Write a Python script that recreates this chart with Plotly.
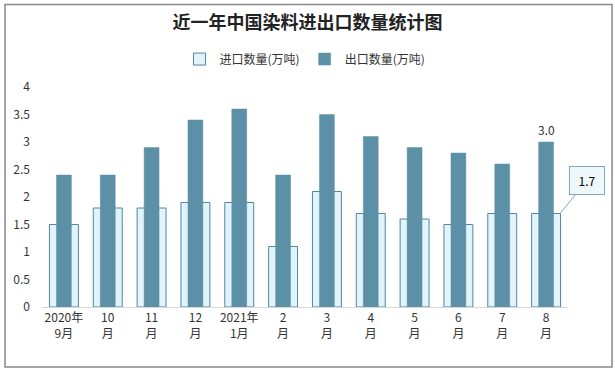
import plotly.graph_objects as go

categories = ["2020年<br>9月", "10<br>月", "11<br>月", "12<br>月", "2021年<br>1月", "2<br>月",
              "3<br>月", "4<br>月", "5<br>月", "6<br>月", "7<br>月", "8<br>月"]
import_vals = [1.5, 1.8, 1.8, 1.9, 1.9, 1.1, 2.1, 1.7, 1.6, 1.5, 1.7, 1.7]
export_vals = [2.4, 2.4, 2.9, 3.4, 3.6, 2.4, 3.5, 3.1, 2.9, 2.8, 2.6, 3.0]
ytick_vals = [0, 0.5, 1, 1.5, 2, 2.5, 3, 3.5, 4]
ytick_text = ["0", "0.5", "1", "1.5", "2", "2.5", "3", "3.5", "4"]

font_family = "Noto Sans CJK SC, Noto Sans, sans-serif"

fig = go.Figure()
fig.add_trace(go.Bar(
    x=categories, y=import_vals, name="进口数量(万吨)",
    width=0.66, marker=dict(color="#E2F4FA", line=dict(color="#4F87A4", width=1)),
))
fig.add_trace(go.Bar(
    x=categories, y=export_vals, name="出口数量(万吨)",
    width=0.34, marker=dict(color="#5C90A7", line=dict(color="#5C90A7", width=0.5)),
))

last = categories[-1]
fig.add_annotation(x=last, y=export_vals[-1], text=f"{export_vals[-1]:.1f}", showarrow=False,
                   yshift=13, font=dict(size=12, color="#333", family=font_family))
fig.add_annotation(x=last, y=import_vals[-1], text=f"{import_vals[-1]:.1f}", showarrow=True,
                   arrowhead=0, arrowcolor="#7FA9BC", arrowwidth=1, ax=27, ay=-33,
                   xshift=14, standoff=0,
                   bgcolor="#EEF7F9", bordercolor="#7FA9BC", borderwidth=1, borderpad=5,
                   width=24,
                   font=dict(size=12, color="#000", family=font_family))

fig.update_layout(
    width=615, height=370,
    margin=dict(l=42, r=47, t=87, b=63),
    paper_bgcolor="white", plot_bgcolor="white",
    barmode="overlay",
    font=dict(family=font_family, size=12, color="#333"),
    title=dict(text="<b>近一年中国染料进出口数量统计图</b>", x=0.5, xanchor="center", y=0.938, yanchor="middle",
               font=dict(size=18, color="#222", family=font_family)),
    legend=dict(orientation="h", x=0.5, xanchor="center", y=1.127, yanchor="middle",
                font=dict(size=12, color="#333"), traceorder="normal"),
    xaxis=dict(range=[-0.5, 11.5], showline=True, linecolor="#D9D9D9", linewidth=1, ticks="", showgrid=False,
               tickfont=dict(size=12, color="#333")),
    yaxis=dict(range=[0, 4], tickvals=ytick_vals, ticktext=ytick_text, showgrid=False,
               zeroline=False, showline=False, tickfont=dict(size=12, color="#333"), ticklabelstandoff=11),
    shapes=[dict(type="rect", xref="paper", yref="paper", x0=-0.0703, x1=1.0837, y0=-0.2727, y1=1.375,
                 line=dict(color="#888", width=1.5), fillcolor="rgba(0,0,0,0)", layer="below")],
    showlegend=True,
)

fig.write_html("out.html", config={"displayModeBar": False},
               post_script="document.body.style.margin='0';document.body.style.padding='0';")
